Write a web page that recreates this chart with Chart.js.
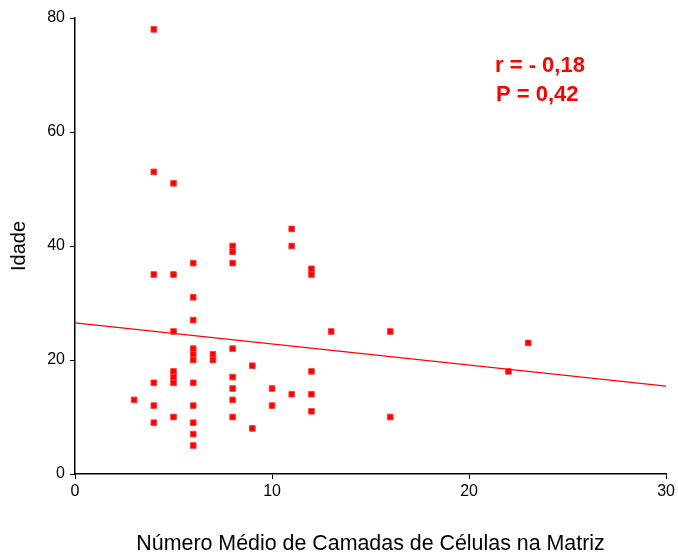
<!DOCTYPE html>
<html>
<head>
<meta charset="utf-8">
<script src="https://cdn.jsdelivr.net/npm/chart.js@4"></script>
<style>
  html, body { margin: 0; padding: 0; background: #fff; }
  #wrap { position: relative; width: 678px; height: 553px; }
</style>
</head>
<body>
<div id="wrap"><canvas id="myChart"></canvas></div>
<script>
// camadas de células (x) e idade (y), um par por caso
const camadas = [4, 4, 5, 11, 11, 8, 8, 8, 6, 4, 5, 12, 12, 6, 6, 5, 13, 6, 6, 6, 7, 7, 8, 9, 12, 5, 5, 5, 4, 6, 8, 8, 10, 11, 12, 3, 8, 4, 6, 10, 12, 5, 8, 4, 6, 9, 6, 6, 16, 16, 22, 23]
const idades = [78, 53, 51, 43, 40, 40, 39, 37, 37, 35, 35, 36, 35, 31, 27, 25, 25, 22, 21, 20, 21, 20, 22, 19, 18, 18, 17, 16, 16, 16, 17, 15, 15, 14, 14, 13, 13, 12, 12, 12, 11, 10, 10, 9, 9, 8, 7, 5, 25, 10, 18, 23]

// reta de regressão: extremos em x = 0 e x = 30
const retaX = [0, 30]
const retaY = [26.5, 15.4]

const ticksX = [0, 10, 20, 30]
const ticksY = [0, 20, 40, 60, 80]

const textoStats = ['r = - 0,18', 'P = 0,42']

const fonte = 'Arial, "Liberation Sans", sans-serif'

function pares(xs, ys) {
    return xs.map((x, i) => ({ x: x, y: ys[i] }))
}

// escreve r e P no canto superior direito
const statsPlugin = {
    id: 'statsText',
    afterDraw(chart) {
        const ctx = chart.ctx
        ctx.save()
        ctx.fillStyle = '#ff0000'
        ctx.font = 'bold 22px ' + fonte
        ctx.textBaseline = 'alphabetic'
        ctx.textAlign = 'left'
        ctx.fillText(textoStats[0], 495, 72)
        ctx.fillText(textoStats[1], 496, 101)
        ctx.restore()
    }
}

function grafico() {
    const ctx = document.getElementById('myChart')

    new Chart(ctx, {
        type: 'scatter',
        data: {
            datasets: [
                {
                    label: 'Idade',
                    data: pares(camadas, idades),
                    pointStyle: 'rect',
                    pointRadius: 4,
                    pointHoverRadius: 4,
                    backgroundColor: '#ff0000',
                    borderColor: 'rgba(255, 60, 60, 0.9)',
                    borderWidth: 1
                },
                {
                    label: 'Regressão',
                    type: 'line',
                    data: pares(retaX, retaY),
                    borderColor: '#ff0000',
                    borderWidth: 1.3,
                    pointRadius: 0,
                    fill: false
                }
            ]
        },
        options: {
            responsive: true,
            maintainAspectRatio: false,
            animation: false,
            layout: {
                padding: { top: 18, right: 11, left: 0, bottom: 0 }
            },
            plugins: {
                legend: { display: false },
                tooltip: { enabled: false }
            },
            scales: {
                x: {
                    type: 'linear',
                    min: 0,
                    max: 30,
                    afterBuildTicks: s => { s.ticks = ticksX.map(v => ({ value: v })) },
                    afterFit: s => { s.height = 79 },
                    border: { display: true, color: '#000', width: 1.5 },
                    grid: { drawOnChartArea: false, drawTicks: true, tickLength: 5, color: '#000', lineWidth: 1 },
                    ticks: {
                        color: '#000',
                        padding: 3,
                        maxRotation: 0,
                        font: { family: fonte, size: 16 }
                    },
                    title: {
                        display: true,
                        text: 'Número Médio de Camadas de Células na Matriz',
                        color: '#000',
                        padding: { top: 0, bottom: 0 },
                        font: { family: fonte, size: 21.4, lineHeight: 0.8 }
                    }
                },
                y: {
                    min: 0,
                    max: 80,
                    afterBuildTicks: s => { s.ticks = ticksY.map(v => ({ value: v })) },
                    afterFit: s => { s.width = 75 },
                    border: { display: true, color: '#000', width: 1.5 },
                    grid: { drawOnChartArea: false, drawTicks: true, tickLength: 5, color: '#000', lineWidth: 1 },
                    ticks: {
                        color: '#000',
                        padding: 5,
                        font: { family: fonte, size: 16 }
                    },
                    title: {
                        display: true,
                        text: 'Idade',
                        color: '#000',
                        padding: { top: 7, bottom: 0 },
                        font: { family: fonte, size: 20 }
                    }
                }
            }
        },
        plugins: [statsPlugin]
    })
}

grafico()
</script>
</body>
</html>
